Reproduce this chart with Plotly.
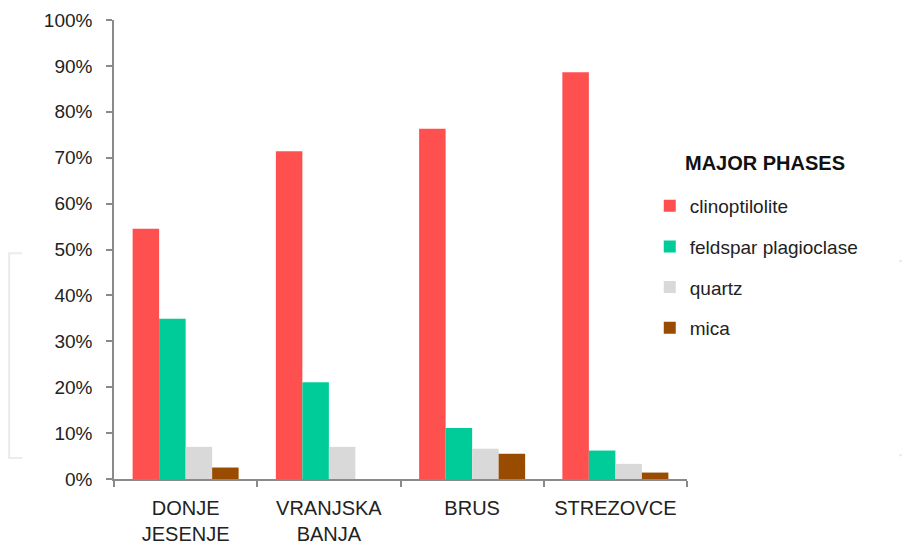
import plotly.graph_objects as go

categories = ["DONJE<br>JESENJE", "VRANJSKA<br>BANJA", "BRUS", "STREZOVCE"]
clinoptilolite = [0.545, 0.714, 0.763, 0.886]
feldspar_plagioclase = [0.349, 0.211, 0.111, 0.062]
quartz = [0.070, 0.070, 0.066, 0.033]
mica = [0.025, 0.0, 0.055, 0.014]

series = [
    ("clinoptilolite", clinoptilolite, "#FF5050"),
    ("feldspar plagioclase", feldspar_plagioclase, "#00CC99"),
    ("quartz", quartz, "#D9D9D9"),
    ("mica", mica, "#994C00"),
]

FONT = "Liberation Sans, Arial, sans-serif"
AXIS = "#8a8a8a"

fig = go.Figure()
for i, (name, vals, color) in enumerate(series):
    fig.add_trace(go.Bar(
        x=categories, y=vals, name=name,
        marker=dict(color=color, line=dict(width=0)),
        legendgroup=f"g{i}",
        hoverinfo="x+y+name",
    ))

fig.update_layout(
    width=910, height=549,
    margin=dict(l=106, r=231, t=12, b=78, autoexpand=False),
    paper_bgcolor="white", plot_bgcolor="white",
    font=dict(family=FONT, size=19, color="#222222"),
    barmode="group", bargap=0.26, bargroupgap=0,
    showlegend=True,
    legend=dict(
        x=0.935, xanchor="left", y=0.6365, yanchor="top",
        traceorder="grouped", tracegroupgap=13,
        font=dict(family=FONT, size=19, color="#222222"),
        bgcolor="rgba(0,0,0,0)",
    ),
    annotations=[dict(
        text="<b>MAJOR PHASES</b>", xref="paper", yref="paper",
        x=0.993, y=0.689, xanchor="left", yanchor="middle",
        showarrow=False, font=dict(family=FONT, size=20, color="#111111"),
    )],
    shapes=[
        dict(type="path", xref="paper", yref="paper",
             path="M -0.160 0.492 L -0.183 0.492 L -0.183 0.046 L -0.160 0.046",
             line=dict(color="#ebebeb", width=2)),
        dict(type="path", xref="paper", yref="paper",
             path="M 1.370 0.475 L 1.386 0.475 L 1.386 0.052 L 1.370 0.052",
             line=dict(color="#ebebeb", width=2)),
    ],
)

fig.update_xaxes(
    type="category", showline=True, linecolor=AXIS, linewidth=1.5,
    ticks="outside", tickson="boundaries", ticklen=6, tickcolor=AXIS, tickwidth=1.5,
    showgrid=False, zeroline=False, ticklabelstandoff=10, automargin=False,
    tickfont=dict(size=20),
)
fig.update_yaxes(
    range=[0, 1], dtick=0.1, tickformat=".0%",
    showline=True, linecolor=AXIS, linewidth=1.5,
    ticks="outside", ticklen=6, tickcolor=AXIS, tickwidth=1.5,
    showgrid=False, zeroline=False, ticklabelstandoff=10, automargin=False,
)

fig.write_html("out.html")
